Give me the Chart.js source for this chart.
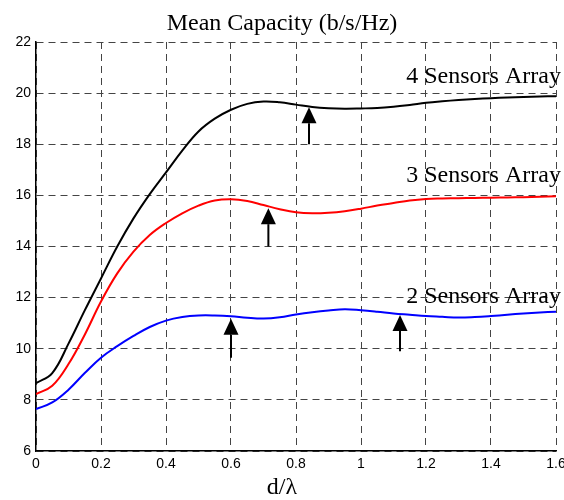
<!DOCTYPE html>
<html>
<head>
<meta charset="utf-8">
<script src="https://cdn.jsdelivr.net/npm/chart.js@4.4.0/dist/chart.umd.min.js"></script>
<style>
  html, body { margin: 0; padding: 0; background: #fff; }
  #wrap { width: 564px; height: 500px; }
</style>
</head>
<body>
<div id="wrap"><canvas id="cap" width="564" height="500"></canvas></div>
<script>
/* Mean capacity vs d/lambda */
const dLambda = [0, 0.05, 0.1, 0.15, 0.2, 0.25, 0.3, 0.35, 0.4, 0.45, 0.5, 0.55, 0.6, 0.65, 0.7, 0.75, 0.8,
  0.85, 0.9, 0.95, 1.0, 1.05, 1.1, 1.15, 1.2, 1.25, 1.3, 1.35, 1.4, 1.45, 1.5, 1.55, 1.6];
const cap4 = [8.65, 9.05, 10.2, 11.5, 12.75, 14.0, 15.1, 16.05, 16.9, 17.75, 18.5, 19.0, 19.35, 19.58, 19.67, 19.64, 19.55,
  19.46, 19.41, 19.39, 19.4, 19.42, 19.47, 19.54, 19.62, 19.68, 19.73, 19.77, 19.8, 19.83, 19.85, 19.87, 19.88];
const cap3 = [8.23, 8.55, 9.4, 10.55, 11.85, 12.95, 13.8, 14.45, 14.92, 15.3, 15.6, 15.8, 15.85, 15.78, 15.62, 15.46, 15.34,
  15.3, 15.32, 15.38, 15.48, 15.6, 15.7, 15.8, 15.86, 15.88, 15.89, 15.9, 15.91, 15.92, 15.93, 15.95, 15.97];
const cap2 = [7.64, 7.9, 8.4, 9.05, 9.65, 10.1, 10.5, 10.85, 11.1, 11.24, 11.3, 11.3, 11.27, 11.21, 11.18, 11.23, 11.34,
  11.43, 11.5, 11.55, 11.51, 11.45, 11.38, 11.33, 11.28, 11.25, 11.22, 11.24, 11.28, 11.33, 11.38, 11.42, 11.45];
const xTicks = [0, 0.2, 0.4, 0.6, 0.8, 1, 1.2, 1.4, 1.6];
const yTicks = [6, 8, 10, 12, 14, 16, 18, 20, 22];

// arrows: x position, tail value, tip value
const arrowX = [0.84, 0.715, 0.6, 1.12];
const arrowFrom = [18, 14, 9.65, 9.9];
const arrowTo = [19.45, 15.5, 11.17, 11.32];

const seriesNames = ['4 Sensors Array', '3 Sensors Array', '2 Sensors Array'];
const nameX = [1.615, 1.615, 1.615];
const nameY = [20.63, 16.76, 12.03];

const SERIF = '"Liberation Serif", "Times New Roman", serif';
const SANS = '"Liberation Sans", Arial, sans-serif';

const pts = (ys) => dLambda.map((x, i) => ({ x, y: ys[i] }));
const line = (ys, color) => ({
  data: pts(ys), borderColor: color, borderWidth: 2, pointRadius: 0, tension: 0.4, fill: false,
});

const extras = {
  id: 'extras',
  afterDraw(chart) {
    const { ctx, scales: { x, y } } = chart;
    ctx.save();
    // arrows
    ctx.fillStyle = '#000';
    ctx.strokeStyle = '#000';
    ctx.lineWidth = 2;
    arrowX.forEach((v, i) => {
      const px = x.getPixelForValue(v);
      const y0 = y.getPixelForValue(arrowFrom[i]);
      const y1 = y.getPixelForValue(arrowTo[i]);
      const head = 16;
      ctx.beginPath(); ctx.moveTo(px, y0); ctx.lineTo(px, y1 + head); ctx.stroke();
      ctx.beginPath(); ctx.moveTo(px, y1); ctx.lineTo(px - 7.5, y1 + head); ctx.lineTo(px + 7.5, y1 + head); ctx.closePath(); ctx.fill();
    });
    // series names
    ctx.font = '24px ' + SERIF;
    ctx.textAlign = 'right';
    ctx.textBaseline = 'middle';
    seriesNames.forEach((s, i) => ctx.fillText(s, x.getPixelForValue(nameX[i]), y.getPixelForValue(nameY[i])));
    // title and x-axis label
    ctx.textAlign = 'center';
    ctx.fillText('Mean Capacity (b/s/Hz)', chart.width / 2, 24);
    ctx.fillText('d/λ', chart.width / 2, 488);
    ctx.restore();
  },
};

new Chart(document.getElementById('cap'), {
  type: 'line',
  data: { datasets: [line(cap4, '#000000'), line(cap3, '#ff0000'), line(cap2, '#0000ff')] },
  options: {
    responsive: false,
    animation: false,
    layout: { padding: { top: 42, right: 8, left: 0, bottom: 0 } },
    plugins: { legend: { display: false }, tooltip: { enabled: false }, title: { display: false } },
    scales: {
      x: {
        type: 'linear', min: 0, max: 1.6,
        afterBuildTicks: (s) => { s.ticks = xTicks.map((v) => ({ value: v })); },
        afterFit: (s) => { s.height = 49; s.paddingLeft = 0; s.paddingRight = 0; },
        ticks: { color: '#000', font: { family: SANS, size: 14 }, padding: 5, maxRotation: 0, callback: (v) => String(v) },
        grid: { color: '#444', lineWidth: 1, drawTicks: false },
        border: { display: true, color: '#000', width: 1.5, dash: [7, 5] },
      },
      y: {
        type: 'linear', min: 6, max: 22,
        afterBuildTicks: (s) => { s.ticks = yTicks.map((v) => ({ value: v })); },
        afterFit: (s) => { s.width = 36; s.paddingTop = 0; s.paddingBottom = 0; },
        ticks: { color: '#000', font: { family: SANS, size: 14 }, padding: 5 },
        grid: { color: '#444', lineWidth: 1, drawTicks: false },
        border: { display: true, color: '#000', width: 1.5, dash: [7, 5] },
      },
    },
  },
  plugins: [extras],
});
</script>
</body>
</html>
